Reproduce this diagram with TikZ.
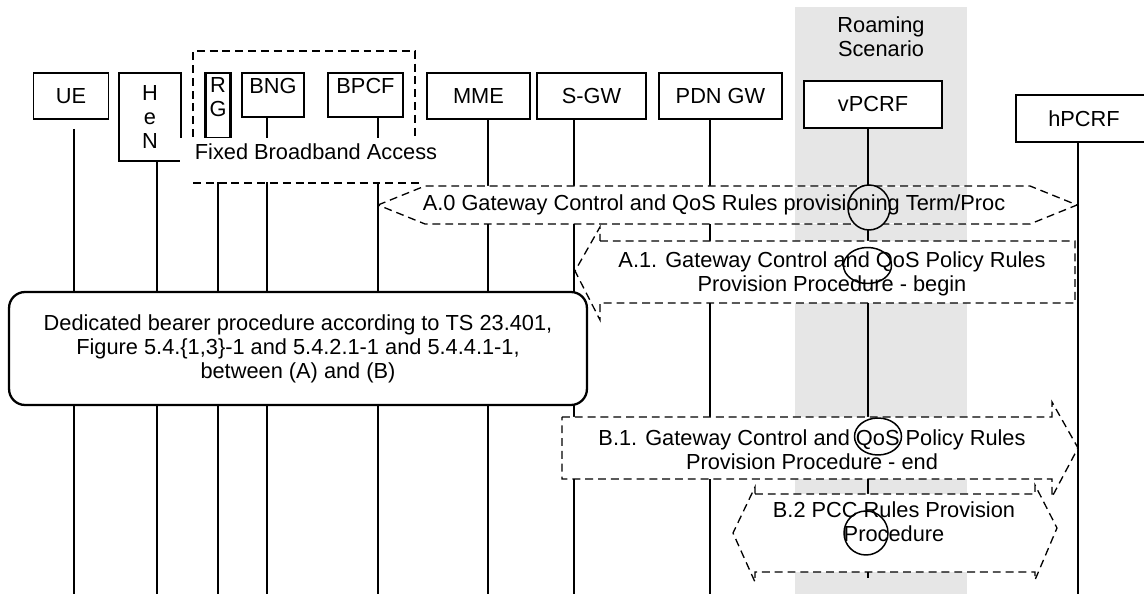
\documentclass[tikz,border=0pt]{standalone}
\usepackage{fontspec}
\setmainfont{Liberation Sans}
\definecolor{band}{HTML}{E6E6E6}
\newcommand\diagfont{\fontsize{12.4}{13.6}\selectfont}

\begin{document}
\begin{tikzpicture}[x=0.02cm,y=-0.02cm,font=\diagfont,
  ent/.style={draw,line width=0.9pt,fill=white,inner sep=0pt},
  fbabox/.style={ent,line width=1.5pt},
  life/.style={line width=0.85pt},
  dashline/.style={dash pattern=on 4.5pt off 2.8pt,line width=0.75pt},
  proc/.style={dashline,draw,fill=white},
  hit/.style={draw,line width=0.85pt}]
\useasboundingbox (0,0) rectangle (1144,594);
\fill[band] (795,7) rectangle (967,594);
\node[align=center] (roam) at (881,37) {Roaming\\Scenario};

\node[ent,minimum width=1.5cm,minimum height=0.92cm] (ue) at (71,96) {UE};
\node[ent,minimum width=1.24cm,minimum height=1.76cm,align=center] (hen) at (150,117) {H\\e\\N};
\node[fbabox,minimum width=0.5cm,minimum height=1.3cm,
  label={[anchor=north,align=center,name=rg-t]north:R\\G}] (rg) at (218,105.5) {};
\node[fbabox,minimum width=1.24cm,minimum height=0.88cm,
  label={[anchor=north,name=bng-t]north:BNG}] (bng) at (273,95) {};
\node[fbabox,minimum width=1.5cm,minimum height=0.88cm,
  label={[anchor=north,name=bpcf-t]north:BPCF}] (bpcf) at (365.5,95) {};
\node[ent,minimum width=2.06cm,minimum height=0.92cm] (mme) at (478.5,96) {MME};
\node[ent,minimum width=2.18cm,minimum height=0.92cm] (sgw) at (591.5,96) {S-GW};
\node[ent,minimum width=2.46cm,minimum height=0.92cm] (pgw) at (720.5,96) {PDN GW};
\node[ent,minimum width=2.76cm,minimum height=0.94cm] (vpcrf) at (873,104.5) {vPCRF};
\node[ent,minimum width=2.72cm,minimum height=0.94cm] (hpcrf) at (1084,118.5) {hPCRF};

\coordinate (ue-end) at (74,594);
\coordinate (hen-end) at (157,594);
\coordinate (rg-end) at (218,594);
\coordinate (bng-end) at (267,594);
\coordinate (bpcf-end) at (378,594);
\coordinate (mme-end) at (488,594);
\coordinate (sgw-end) at (574,594);
\coordinate (pgw-end) at (710,594);
\coordinate (vpcrf-end) at (868,578);
\coordinate (hpcrf-end) at (1078,594);

\draw[life] (ue.south -| ue-end) ++(0,9) -- (ue-end);
\draw[life] (hen.south -| hen-end) -- (hen-end);
\draw[life] (rg.south -| rg-end) -- (rg-end);
\draw[life] (bng.south -| bng-end) -- (bng-end);
\draw[life] (bpcf.south -| bpcf-end) -- (bpcf-end);
\draw[life] (mme.south -| mme-end) -- (mme-end);
\draw[life] (sgw.south -| sgw-end) -- (sgw-end);
\draw[life] (pgw.south -| pgw-end) -- (pgw-end);
\draw[life] (vpcrf.south -| vpcrf-end) -- (vpcrf-end);
\draw[life] (hpcrf.south -| hpcrf-end) -- (hpcrf-end);

\fill[white] (180,138) rectangle (440,182);
\draw[dashline] (193,137) -- (193,51) -- (415,51) -- (415,137);
\draw[dashline] (193,183) -- (422,183);
\node (fba) at (316,152) {Fixed Broadband Access};

\draw[proc] (378,205) -- (425,186) -- (1030,186) -- (1077,205) -- (1030,224) -- (425,224) -- cycle;
\fill[band] (795,187) rectangle (967,223);
\draw[hit,fill=band] (869,207.5) ellipse [x radius=0.42cm,y radius=0.45cm];
\node (a0) at (714,205) {A.0 Gateway Control and QoS Rules provisioning Term/Proc};

\draw[proc] (600,241) -- (1075,241) -- (1075,303) -- (600,303) -- (600,320) -- (575,271) -- (600,227) -- cycle;
\draw[hit,fill=white] (867.5,265.5) ellipse [x radius=0.48cm,y radius=0.36cm];
\node[align=center] (a1) at (832,274) {A.1. Gateway Control and QoS Policy Rules\\Provision Procedure - begin};

\node[draw,line width=1.3pt,rounded corners=0.32cm,fill=white,minimum width=11.56cm,
  minimum height=2.26cm,align=center] (ded) at (298,348.5)
  {Dedicated bearer procedure according to TS 23.401,\\Figure 5.4.\{1,3\}-1 and 5.4.2.1-1 and 5.4.4.1-1,\\between (A) and (B)};

\draw[proc] (562,417) -- (1052,417) -- (1052,402) -- (1078,448) -- (1052,497) -- (1052,479) -- (562,479) -- cycle;
\draw[hit,fill=white] (878,436.5) ellipse [x radius=0.47cm,y radius=0.37cm];
\node[align=center] (b1) at (812,449.5) {B.1. Gateway Control and QoS Policy Rules\\Provision Procedure - end};

\draw[proc] (755,494) -- (1035,494) -- (1035,485) -- (1057,528) -- (1035,580) -- (1035,572) -- (755,572) -- (755,582) -- (733,533) -- (755,487) -- cycle;
\draw[hit,fill=white] (866,533) ellipse [x radius=0.44cm,y radius=0.44cm];
\node[align=center] (b2) at (894,521.5) {B.2 PCC Rules Provision\\Procedure};
\end{tikzpicture}
\end{document}
